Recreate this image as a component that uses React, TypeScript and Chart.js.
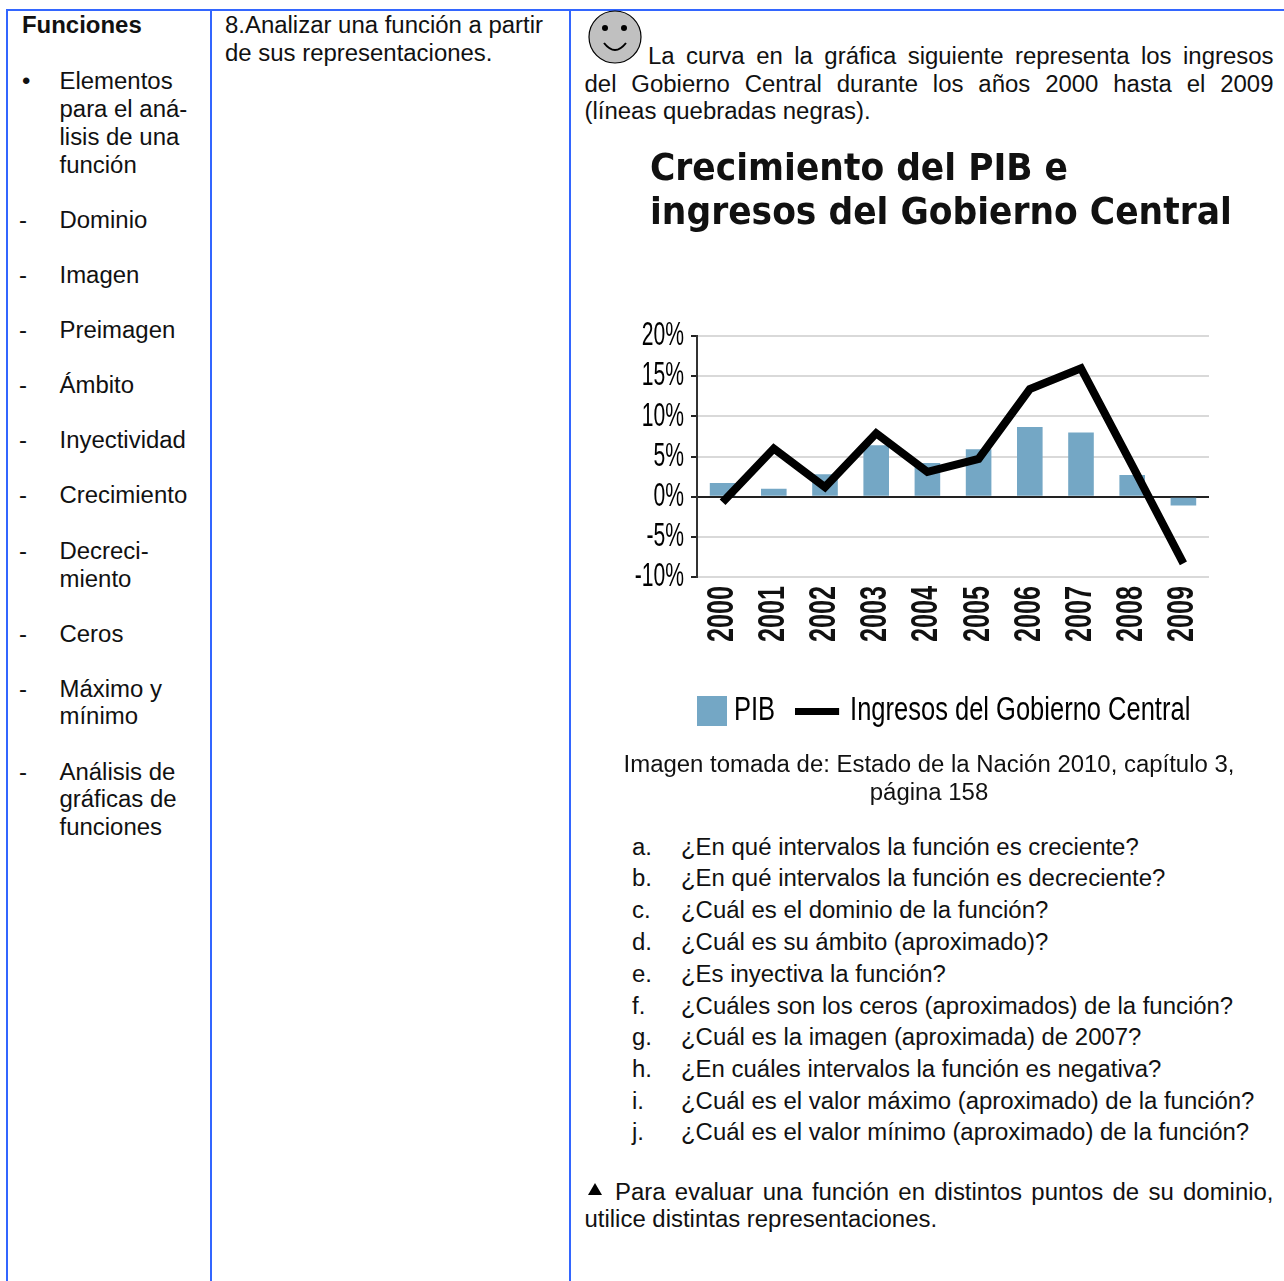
import React, { useEffect, useRef } from "react";
import { Chart, registerables } from "chart.js";

Chart.register(...registerables);

const years = ["2000", "2001", "2002", "2003", "2004", "2005", "2006", "2007", "2008", "2009"];
const pib = [1.7, 1.0, 2.8, 6.4, 4.2, 5.9, 8.7, 8.0, 2.7, -1.1];
const ingresos = [-0.7, 6.0, 1.2, 7.9, 3.1, 4.7, 13.4, 16.0, 3.9, -8.3];
const chartTitle = ["Crecimiento del PIB e", "ingresos del Gobierno Central"];
const leftColumn: [number, number, string][] = [
  [59.5, 81, "Elementos"], [59.5, 109, "para el aná-"], [59.5, 137, "lisis de una"], [59.5, 165, "función"],
  [59.5, 220, "Dominio"], [59.5, 275, "Imagen"], [59.5, 330, "Preimagen"], [59.5, 385, "Ámbito"],
  [59.5, 440, "Inyectividad"], [59.5, 495, "Crecimiento"], [59.5, 551, "Decreci-"], [59.5, 579, "miento"],
  [59.5, 634, "Ceros"], [59.5, 689, "Máximo y"], [59.5, 716, "mínimo"], [59.5, 772, "Análisis de"],
  [59.5, 799, "gráficas de"], [59.5, 827, "funciones"],
];
const dashYs = [220, 275, 330, 385, 440, 495, 551, 634, 689, 772];
const questions: [string, number, string][] = [
  ["a.", 847, "¿En qué intervalos la función es creciente?"],
  ["b.", 878, "¿En qué intervalos la función es decreciente?"],
  ["c.", 910, "¿Cuál es el dominio de la función?"],
  ["d.", 942, "¿Cuál es su ámbito (aproximado)?"],
  ["e.", 974, "¿Es inyectiva la función?"],
  ["f.", 1006, "¿Cuáles son los ceros (aproximados) de la función?"],
  ["g.", 1037, "¿Cuál es la imagen (aproximada) de 2007?"],
  ["h.", 1069, "¿En cuáles intervalos la función es negativa?"],
  ["i.", 1101, "¿Cuál es el valor máximo (aproximado) de la función?"],
  ["j.", 1132, "¿Cuál es el valor mínimo (aproximado) de la función?"],
];

const BODY = "'Liberation Sans', Arial, sans-serif";
const NARROW = "'Liberation Sans'";
const FS = 23.95;
// horizontal squeeze per canvas font size, for the condensed face of the original figure
const squeeze: Record<string, number> = { "33": 0.64, "34": 0.75, "36": 0.7, "38": 1.01 };

function condense(ctx: any) {
  const k = () => {
    const m = /(\d+)px/.exec(ctx.font);
    return (m && squeeze[m[1]]) || 1;
  };
  const fill = ctx.fillText.bind(ctx);
  const measure = ctx.measureText.bind(ctx);
  ctx.fillText = (t: string, x: number, y: number) => {
    ctx.save();
    ctx.translate(x, y);
    ctx.scale(k(), 1);
    fill(t, 0, 0);
    ctx.restore();
  };
  ctx.measureText = (t: string) => {
    const r = measure(t);
    return { width: r.width * k(), actualBoundingBoxAscent: r.actualBoundingBoxAscent, actualBoundingBoxDescent: r.actualBoundingBoxDescent };
  };
}

function swatch(w: number, h: number, pad: number, color: string) {
  const c = document.createElement("canvas");
  c.width = w + Math.abs(pad);
  c.height = h;
  const x = c.getContext("2d")!;
  x.fillStyle = color;
  x.fillRect(pad > 0 ? pad : 0, 0, w, h);
  return c;
}

function T({ x, y, children, bold, width, justify, align }: any) {
  return (
    <div
      style={{
        position: "absolute",
        left: x,
        top: y - 14,
        height: 28,
        lineHeight: "28px",
        fontSize: FS,
        fontWeight: bold ? 700 : 400,
        whiteSpace: justify ? "normal" : "nowrap",
        width,
        textAlign: justify ? "justify" : align,
        textAlignLast: justify ? "justify" : undefined,
        color: "#111",
      } as any}
    >
      {children}
    </div>
  );
}

function Line({ x, y, w, h }: any) {
  return <div style={{ position: "absolute", left: x, top: y, width: w, height: h, background: "#3366ff" }} />;
}

export default function App() {
  const ref = useRef<HTMLCanvasElement>(null);
  useEffect(() => {
    condense(ref.current!.getContext("2d"));
    const chart = new Chart(ref.current!, {
      data: {
        labels: years,
        datasets: [
          {
            type: "line",
            label: "Ingresos del Gobierno Central",
            data: ingresos,
            borderColor: "#000",
            borderWidth: 8,
            pointRadius: 0,
            tension: 0,
            order: 1,
          },
          {
            type: "bar",
            label: "PIB",
            data: pib,
            backgroundColor: "#74a7c5",
            barPercentage: 0.5,
            categoryPercentage: 1,
            order: 2,
          },
        ],
      } as any,
      options: {
        animation: false,
        responsive: false,
        layout: { autoPadding: false, padding: { left: 0, right: 31, top: 0, bottom: 22 } },
        plugins: {
          tooltip: { enabled: false },
          title: {
            display: true,
            text: chartTitle,
            align: "start",
            color: "#111",
            font: { family: "'DejaVu Sans Condensed', 'DejaVu Sans'", weight: "bold", size: 38, lineHeight: 1.16 },
            padding: { top: 8, bottom: 100 },
          },
          legend: {
            position: "bottom",
            align: "start",
            labels: {
              usePointStyle: true,
              pointStyleWidth: 30,
              padding: 28,
              color: "#111",
              font: { family: NARROW, size: 34 },
              generateLabels: () => [
                { text: "PIB", pointStyle: swatch(30, 30, 20, "#74a7c5"), fillStyle: "#74a7c5", strokeStyle: "#74a7c5", lineWidth: 0, datasetIndex: 1 },
                { text: "Ingresos del Gobierno Central", pointStyle: swatch(44, 7, -2, "#000"), fillStyle: "#000", strokeStyle: "#000", lineWidth: 0, datasetIndex: 0 },
              ],
            } as any,
          },
        },
        scales: {
          x: {
            grid: { display: false },
            border: { display: false },
            ticks: {
              minRotation: 90,
              maxRotation: 90,
              autoSkip: false,
              labelOffset: 0,
              padding: 1,
              color: "#111",
              font: { family: NARROW, size: 36, weight: "bold" },
            },
            afterFit: (s: any) => { s.height = 89; },
          },
          y: {
            min: -10,
            max: 20,
            ticks: {
              stepSize: 5,
              autoSkip: false,
              padding: 7,
              color: "#000",
              font: { family: NARROW, size: 33 },
              callback: (v: any) => `${v}%`,
            },
            grid: {
              color: (c: any) => (c.tick && c.tick.value === 0 ? "#222" : "#d9d9d9"),
              lineWidth: 2,
              tickColor: "#222",
              tickLength: 6,
            },
            border: { display: true, color: "#333", width: 2 },
            afterFit: (s: any) => { s.width = 77; },
          },
        },
      },
      plugins: [
        {
          id: "placeBoxes",
          afterLayout(c: any) {
            c.titleBlock.left = 30;
            c.legend.left = 39;
            c.legend.right += 39;
          },
        },
      ],
    } as any);
    return () => chart.destroy();
  }, []);

  return (
    <div style={{ position: "fixed", left: 0, top: 0, width: 1284, height: 1281, overflow: "hidden", background: "#fff", fontFamily: BODY }}>
      <Line x={6} y={9} w={1278} h={2} />
      <Line x={6} y={9} w={2} h={1272} />
      <Line x={210} y={9} w={2} h={1272} />
      <Line x={569} y={9} w={2} h={1272} />

      <T x={22} y={25} bold>Funciones</T>
      <T x={22} y={81}>•</T>
      {leftColumn.map(([x, y, s]) => <T key={y} x={x} y={y}>{s}</T>)}
      {dashYs.map((y) => <T key={y} x={19} y={y}>-</T>)}

      <T x={225} y={25}>8.Analizar una función a partir</T>
      <T x={225} y={53}>de sus representaciones.</T>

      <svg style={{ position: "absolute", left: 587, top: 10 }} width={56} height={56}>
        <ellipse cx={28} cy={27} rx={26} ry={26} fill="#c0c0c0" stroke="#000" strokeWidth={1.2} />
        <circle cx={18} cy={18} r={3} fill="#000" />
        <circle cx={37} cy={18} r={3} fill="#000" />
        <path d="M17 33 Q28 47 39 33" fill="none" stroke="#000" strokeWidth={2} />
      </svg>
      <T x={648} y={56} width={625.5} justify>La curva en la gráfica siguiente representa los ingresos</T>
      <T x={584.5} y={84} width={689} justify>del Gobierno Central durante los años 2000 hasta el 2009</T>
      <T x={584.5} y={111}>(líneas quebradas negras).</T>

      <canvas ref={ref} width={620} height={620} style={{ position: "absolute", left: 620, top: 140, width: 620, height: 620 }} />

      <T x={585} y={764} width={688} align="center">Imagen tomada de: Estado de la Nación 2010, capítulo 3,</T>
      <T x={585} y={792} width={688} align="center">página 158</T>

      {questions.map(([l, y, q]) => (
        <React.Fragment key={l}>
          <T x={632} y={y}>{l}</T>
          <T x={681} y={y}>{q}</T>
        </React.Fragment>
      ))}

      <svg style={{ position: "absolute", left: 587, top: 1182 }} width={16} height={14}>
        <path d="M8 1 L15 13 L1 13 Z" fill="#000" />
      </svg>
      <T x={615} y={1192} width={658.5} justify>Para evaluar una función en distintos puntos de su dominio,</T>
      <T x={584.5} y={1219}>utilice distintas representaciones.</T>
    </div>
  );
}
